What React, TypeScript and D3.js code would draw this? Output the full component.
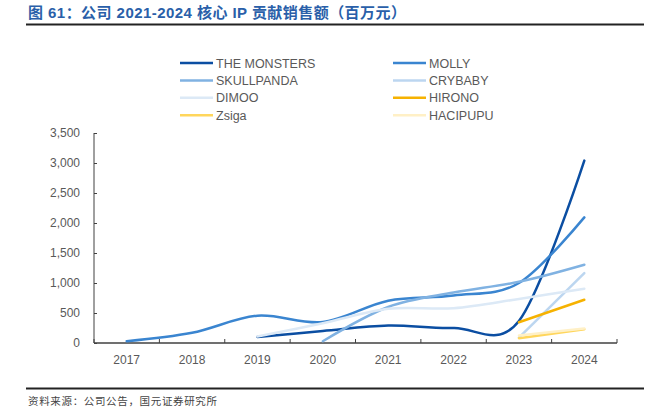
import * as d3 from "d3";
import { useEffect, useRef } from "react";

const years = ["2017", "2018", "2019", "2020", "2021", "2022", "2023", "2024"];

const theMonsters = [null, null, 100, 200, 290, 250, 368, 3040];
const molly = [30, 170, 455, 350, 705, 790, 1000, 2093];
const skullpanda = [null, null, null, 30, 600, 840, 1020, 1305];
const crybaby = [null, null, null, null, null, null, 90, 1165];
const dimoo = [null, null, 110, 330, 570, 580, 735, 905];
const hirono = [null, null, null, null, null, null, 345, 720];
const zsiga = [null, null, null, null, null, null, 80, 230];
const hacipupu = [null, null, null, null, null, null, 125, 240];

const yTicks = [0, 500, 1000, 1500, 2000, 2500, 3000, 3500];

type Series = { name: string; values: (number | null)[]; color: string };

const series: Series[] = [
  { name: "THE MONSTERS", values: theMonsters, color: "#0b4ea2" },
  { name: "MOLLY", values: molly, color: "#3a85d0" },
  { name: "SKULLPANDA", values: skullpanda, color: "#80b2e2" },
  { name: "CRYBABY", values: crybaby, color: "#bcd6f0" },
  { name: "DIMOO", values: dimoo, color: "#dce9f6" },
  { name: "HIRONO", values: hirono, color: "#f6b201" },
  { name: "Zsiga", values: zsiga, color: "#ffd65c" },
  { name: "HACIPUPU", values: hacipupu, color: "#fff0c6" },
];

const W = 658;
const H = 409;
const FONT = "'Liberation Sans', Arial, 'Noto Sans CJK SC', sans-serif";

const drawChart = (svgElement: SVGSVGElement) => {
  const svg = d3.select(svgElement);
  svg.selectAll("*").remove();

  // title + rules
  svg
    .append("text")
    .attr("x", 28)
    .attr("y", 18)
    .attr("fill", "#2a5fa9")
    .attr("textLength", 378)
    .attr("lengthAdjust", "spacing")
    .style("font-family", FONT)
    .style("font-weight", "bold")
    .style("font-size", "15px")
    .text("图 61：公司 2021-2024 核心 IP 贡献销售额（百万元）");

  svg.append("line").attr("x1", 26).attr("x2", 644).attr("y1", 24.5).attr("y2", 24.5)
    .attr("stroke", "#222").attr("stroke-width", 2);
  svg.append("line").attr("x1", 26).attr("x2", 644).attr("y1", 388.5).attr("y2", 388.5)
    .attr("stroke", "#222").attr("stroke-width", 2);

  svg
    .append("text")
    .attr("x", 28)
    .attr("y", 405)
    .attr("fill", "#444")
    .attr("textLength", 189)
    .attr("lengthAdjust", "spacing")
    .style("font-family", "'Noto Sans CJK SC', sans-serif")
    .style("font-size", "10.5px")
    .text("资料来源：公司公告，国元证券研究所");

  const x = d3.scaleBand<string>().domain(years).range([94, 617]);
  const y = d3.scaleLinear().domain([0, 3500]).range([343, 133]);

  // y axis
  const yAxis = svg.append("g").attr("transform", "translate(94,0)")
    .call(d3.axisRight(y).tickValues(yTicks).tickSize(3).tickFormat(() => ""));
  yAxis.select(".domain").attr("stroke", "#404040").attr("d", "M0,133V343");
  yAxis.selectAll(".tick line").attr("stroke", "#404040");

  svg
    .append("g")
    .selectAll("text")
    .data(yTicks)
    .join("text")
    .attr("x", 80)
    .attr("y", (d) => y(d) + 4)
    .attr("text-anchor", "end")
    .attr("fill", "#595959")
    .style("font-family", FONT)
    .style("font-size", "12px")
    .text((d) => d3.format(",")(d));

  // x axis with ticks on band edges
  const edges = years.map((yr) => x(yr) ?? 0).concat([617]);
  const xAxis = svg.append("g");
  xAxis.append("line").attr("x1", 94).attr("x2", 617).attr("y1", 343).attr("y2", 343)
    .attr("stroke", "#404040").attr("stroke-width", 1.3);
  xAxis
    .selectAll("line.tick")
    .data(edges)
    .join("line")
    .attr("class", "tick")
    .attr("x1", (d) => d)
    .attr("x2", (d) => d)
    .attr("y1", 343)
    .attr("y2", 339)
    .attr("stroke", "#404040");
  xAxis
    .selectAll("text")
    .data(years)
    .join("text")
    .attr("x", (d) => (x(d) ?? 0) + x.bandwidth() / 2)
    .attr("y", 364)
    .attr("text-anchor", "middle")
    .attr("fill", "#595959")
    .style("font-family", FONT)
    .style("font-size", "12px")
    .text((d) => d);

  // lines
  const line = d3
    .line<number | null>()
    .defined((d) => d !== null)
    .x((_, i) => (x(years[i]) ?? 0) + x.bandwidth() / 2)
    .y((d) => y(d ?? 0))
    .curve(d3.curveCardinal.tension(0));

  svg
    .append("g")
    .selectAll("path")
    .data(series)
    .join("path")
    .attr("d", (s) => line(s.values))
    .attr("fill", "none")
    .attr("stroke", (s) => s.color)
    .attr("stroke-width", 2.5)
    .attr("stroke-linecap", "round");

  // legend, two columns
  const legend = svg.append("g");
  const item = legend
    .selectAll("g")
    .data(series)
    .join("g")
    .attr("transform", (_, i) => `translate(${i % 2 === 0 ? 180 : 393},${63 + Math.floor(i / 2) * 17.4})`);
  item.append("line").attr("x1", 0).attr("x2", 33).attr("y1", 0).attr("y2", 0)
    .attr("stroke", (s) => s.color).attr("stroke-width", 2.5);
  item
    .append("text")
    .attr("x", 36)
    .attr("y", 4.5)
    .attr("fill", "#595959")
    .style("font-family", FONT)
    .style("font-size", "12.5px")
    .text((s) => s.name);
};

const App = () => {
  const svgRef = useRef<SVGSVGElement | null>(null);

  useEffect(() => {
    document.body.style.margin = "0";
    if (svgRef.current) drawChart(svgRef.current);
  }, []);

  return (
    <div style={{ width: W, height: H, background: "white" }}>
      <svg ref={svgRef} width={W} height={H} style={{ display: "block" }} />
    </div>
  );
};

export default App;
